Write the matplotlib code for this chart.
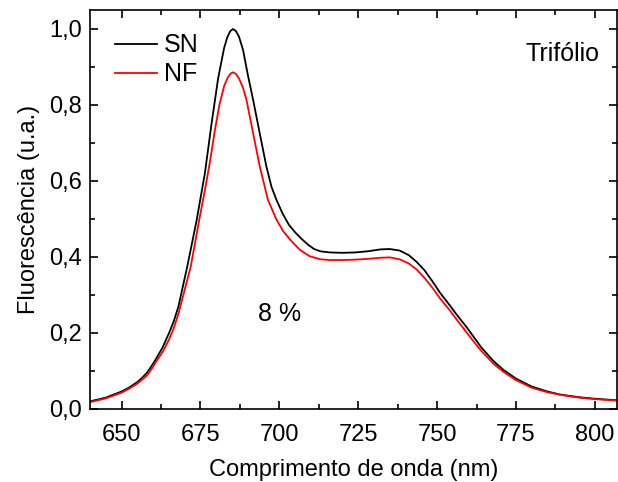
import matplotlib
matplotlib.use("Agg")
import matplotlib.pyplot as plt
from matplotlib.ticker import MultipleLocator, FuncFormatter

plt.rcParams['font.family'] = ['Liberation Sans', 'DejaVu Sans']
plt.rcParams['font.size'] = 17

# emission spectra, wavelength (nm) vs normalised fluorescence
wl_sn = [640, 645, 650, 652.5, 655, 656.5, 658, 659.5, 661, 663, 665, 666.5,
         668, 670.8, 673.8, 676.4, 678.5, 680.6, 682.5, 683.5, 684.4, 685.3,
         686.2, 687.2, 688.5, 690, 691.7, 693.8, 695.9, 697.5, 699.1, 701,
         703, 705, 707, 709, 711, 713, 716, 720, 724, 728, 732, 735, 738.1,
         741, 743.4, 746, 748.6, 751, 753.9, 756.5, 759.2, 762, 764, 768, 771,
         775, 780, 785, 789, 795, 800, 807]
fl_sn = [0.020, 0.030, 0.046, 0.057, 0.071, 0.082, 0.095, 0.113, 0.133,
         0.162, 0.199, 0.230, 0.269, 0.374, 0.497, 0.620, 0.750, 0.870,
         0.950, 0.978, 0.994, 1.000, 0.995, 0.980, 0.945, 0.880, 0.813,
         0.725, 0.638, 0.585, 0.550, 0.515, 0.485, 0.465, 0.448, 0.433,
         0.421, 0.415, 0.412, 0.411, 0.412, 0.415, 0.420, 0.421, 0.417,
         0.405, 0.388, 0.365, 0.335, 0.305, 0.274, 0.245, 0.217, 0.185,
         0.162, 0.125, 0.103, 0.080, 0.059, 0.046, 0.038, 0.031, 0.027,
         0.023]

wl_nf = [640, 645, 650, 652.5, 655, 656.5, 658, 659.5, 661, 663, 665, 666.5,
         668, 671.9, 674.6, 676.5, 678, 679.5, 681, 682.5, 683.7, 684.6,
         685.3, 686.2, 687.2, 688.5, 689.6, 691.7, 693.8, 696.4, 699, 701.2,
         703.8, 706.5, 709.6, 713, 716, 720, 724, 728, 732, 735, 738.1, 741,
         743.4, 746, 748.6, 751, 753.9, 756.5, 759.2, 762, 764, 768, 771, 775,
         780, 785, 790, 795, 800, 807]
fl_nf = [0.018, 0.028, 0.043, 0.054, 0.067, 0.077, 0.088, 0.105, 0.125,
         0.150, 0.182, 0.212, 0.250, 0.374, 0.497, 0.580, 0.650, 0.730,
         0.800, 0.850, 0.873, 0.883, 0.886, 0.882, 0.870, 0.845, 0.813,
         0.725, 0.638, 0.550, 0.500, 0.468, 0.442, 0.419, 0.402, 0.394,
         0.392, 0.392, 0.393, 0.395, 0.398, 0.399, 0.394, 0.383, 0.368,
         0.345, 0.318, 0.290, 0.261, 0.232, 0.203, 0.173, 0.153, 0.118,
         0.098, 0.076, 0.056, 0.044, 0.036, 0.030, 0.026, 0.022]

fig = plt.figure(figsize=(6.18, 4.82), dpi=100)
ax = fig.add_axes([90/618, 73/482, 527/618, 399/482])

ax.plot(wl_sn, fl_sn, color='black', lw=1.3, label='SN')
ax.plot(wl_nf, fl_nf, color='red', lw=1.3, label='NF')

ax.set_xlim(640, 807)
ax.set_ylim(0, 1.05)
ax.xaxis.set_major_locator(MultipleLocator(25))
ax.xaxis.set_minor_locator(MultipleLocator(12.5))
ax.yaxis.set_major_locator(MultipleLocator(0.2))
ax.yaxis.set_minor_locator(MultipleLocator(0.1))
ax.yaxis.set_major_formatter(FuncFormatter(lambda v, p: f'{v:.1f}'.replace('.', ',')))
ax.tick_params(which='both', direction='in', top=True, right=True, width=1.2)
ax.tick_params(which='major', length=6, labelsize=17, pad=6)
ax.tick_params(axis='x', which='major', pad=11)
ax.tick_params(which='minor', length=3.5)
for s in ax.spines.values():
    s.set_linewidth(1.2)

ax.set_xlabel('Comprimento de onda (nm)', fontsize=17, labelpad=9)
ax.set_ylabel('Fluorescência (u.a.)', fontsize=17, labelpad=6)

ax.text(700.2, 0.25, '8 %', fontsize=18, ha='center', va='center')
ax.text(789.7, 0.934, 'Trifólio', fontsize=18, ha='center', va='center')

ax.legend(loc='upper left', frameon=False, fontsize=18, handlelength=1.65,
          handletextpad=0.3, labelspacing=0.2, borderaxespad=0.3,
          bbox_to_anchor=(0.015, 0.985))

fig.savefig('out.png', dpi=100)
